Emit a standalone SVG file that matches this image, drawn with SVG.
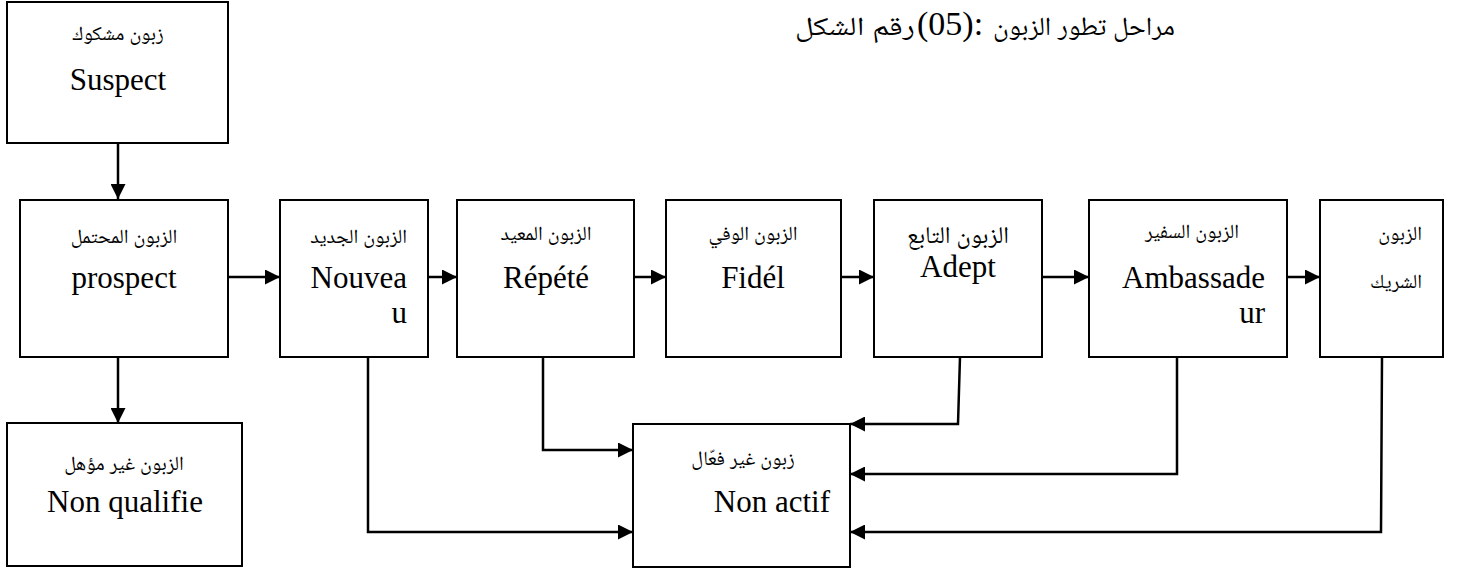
<svg xmlns="http://www.w3.org/2000/svg" width="1457" height="568" viewBox="0 0 1457 568">
<defs>
<style>
.box{fill:#fff;stroke:#000;stroke-width:2}
.lat{font-family:"Liberation Serif","Times New Roman",serif;font-size:31px;fill:#000}
.ar{font-family:"Liberation Serif","Noto Naskh Arabic","Noto Sans Arabic","DejaVu Sans",serif;font-size:20px;fill:#000}
.arL{font-family:"Liberation Serif","Noto Naskh Arabic","Noto Sans Arabic","DejaVu Sans",serif;font-size:24px;fill:#000}
.arT{font-family:"Liberation Serif","Noto Naskh Arabic","Noto Sans Arabic","DejaVu Sans",serif;font-size:26px;fill:#000}
.c{text-anchor:middle}
.e{text-anchor:end}
.con{fill:none;stroke:#000;stroke-width:2.5}
</style>
<marker id="ah" viewBox="0 0 10 10" refX="10" refY="5" markerUnits="userSpaceOnUse" markerWidth="16" markerHeight="15" orient="auto">
<path d="M0,0 L10,5 L0,10 z" fill="#000"/>
</marker>
</defs>
<rect width="1457" height="568" fill="#fff"/>

<g id="title">
<text class="arT e" x="915" y="35" textLength="120" lengthAdjust="spacingAndGlyphs">رقم الشكل</text>
<text class="lat" x="917" y="35" style="font-size:34px">(05):</text>
<text class="arT e" x="1175" y="35" textLength="182" lengthAdjust="spacingAndGlyphs">مراحل تطور الزبون</text>
</g>

<g id="connectors">
<path class="con" d="M118,143 V199" marker-end="url(#ah)"/>
<path class="con" d="M228,277 H280" marker-end="url(#ah)"/>
<path class="con" d="M428,277 H457" marker-end="url(#ah)"/>
<path class="con" d="M634,277 H666" marker-end="url(#ah)"/>
<path class="con" d="M841,277 H874" marker-end="url(#ah)"/>
<path class="con" d="M1042,277 H1089" marker-end="url(#ah)"/>
<path class="con" d="M1287,277 H1320" marker-end="url(#ah)"/>
<path class="con" d="M118,357 V423" marker-end="url(#ah)"/>
<path class="con" d="M368,357 V532 H633" marker-end="url(#ah)"/>
<path class="con" d="M543,357 V450 H633" marker-end="url(#ah)"/>
<path class="con" d="M960,357 L958,424 H850" marker-end="url(#ah)"/>
<path class="con" d="M1177,357 V474 H850" marker-end="url(#ah)"/>
<path class="con" d="M1382,357 L1381,532 H850" marker-end="url(#ah)"/>
</g>

<g id="suspect">
<rect class="box" x="7" y="2" width="221" height="141"/>
<text class="ar c" x="118" y="40">زبون مشكوك</text>
<text class="lat c" x="118" y="90">Suspect</text>
</g>

<g id="prospect">
<rect class="box" x="20" y="200" width="208" height="157"/>
<text class="ar c" x="124" y="243">الزبون المحتمل</text>
<text class="lat c" x="124" y="288">prospect</text>
</g>

<g id="nouveau">
<rect class="box" x="280" y="200" width="148" height="157"/>
<text class="ar e" x="407" y="243">الزبون الجديد</text>
<text class="lat e" x="407" y="288">Nouvea</text>
<text class="lat e" x="407" y="323">u</text>
</g>

<g id="repete">
<rect class="box" x="457" y="200" width="177" height="157"/>
<text class="ar c" x="546" y="240">الزبون المعيد</text>
<text class="lat c" x="546" y="288">Répété</text>
</g>

<g id="fidel">
<rect class="box" x="666" y="200" width="175" height="157"/>
<text class="ar c" x="753" y="240">الزبون الوفي</text>
<text class="lat c" x="753" y="288">Fidél</text>
</g>

<g id="adept">
<rect class="box" x="874" y="200" width="168" height="157"/>
<text class="arL c" x="958" y="243">الزبون التابع</text>
<text class="lat c" x="958" y="277">Adept</text>
</g>

<g id="ambassadeur">
<rect class="box" x="1089" y="200" width="198" height="157"/>
<text class="ar c" x="1192" y="238">الزبون السفير</text>
<text class="lat e" x="1265" y="288">Ambassade</text>
<text class="lat e" x="1265" y="323">ur</text>
</g>

<g id="partenaire">
<rect class="box" x="1320" y="200" width="123" height="157"/>
<text class="ar e" x="1422" y="240">الزبون</text>
<text class="ar e" x="1422" y="288">الشريك</text>
</g>

<g id="non-qualifie">
<rect class="box" x="7" y="423" width="235" height="143"/>
<text class="ar c" x="124" y="470">الزبون غير مؤهل</text>
<text class="lat c" x="125" y="512">Non qualifie</text>
</g>

<g id="non-actif">
<rect class="box" x="633" y="424" width="217" height="143"/>
<text class="ar c" x="743" y="465">زبون غير فعّال</text>
<text class="lat e" x="830" y="512">Non actif</text>
</g>
</svg>
